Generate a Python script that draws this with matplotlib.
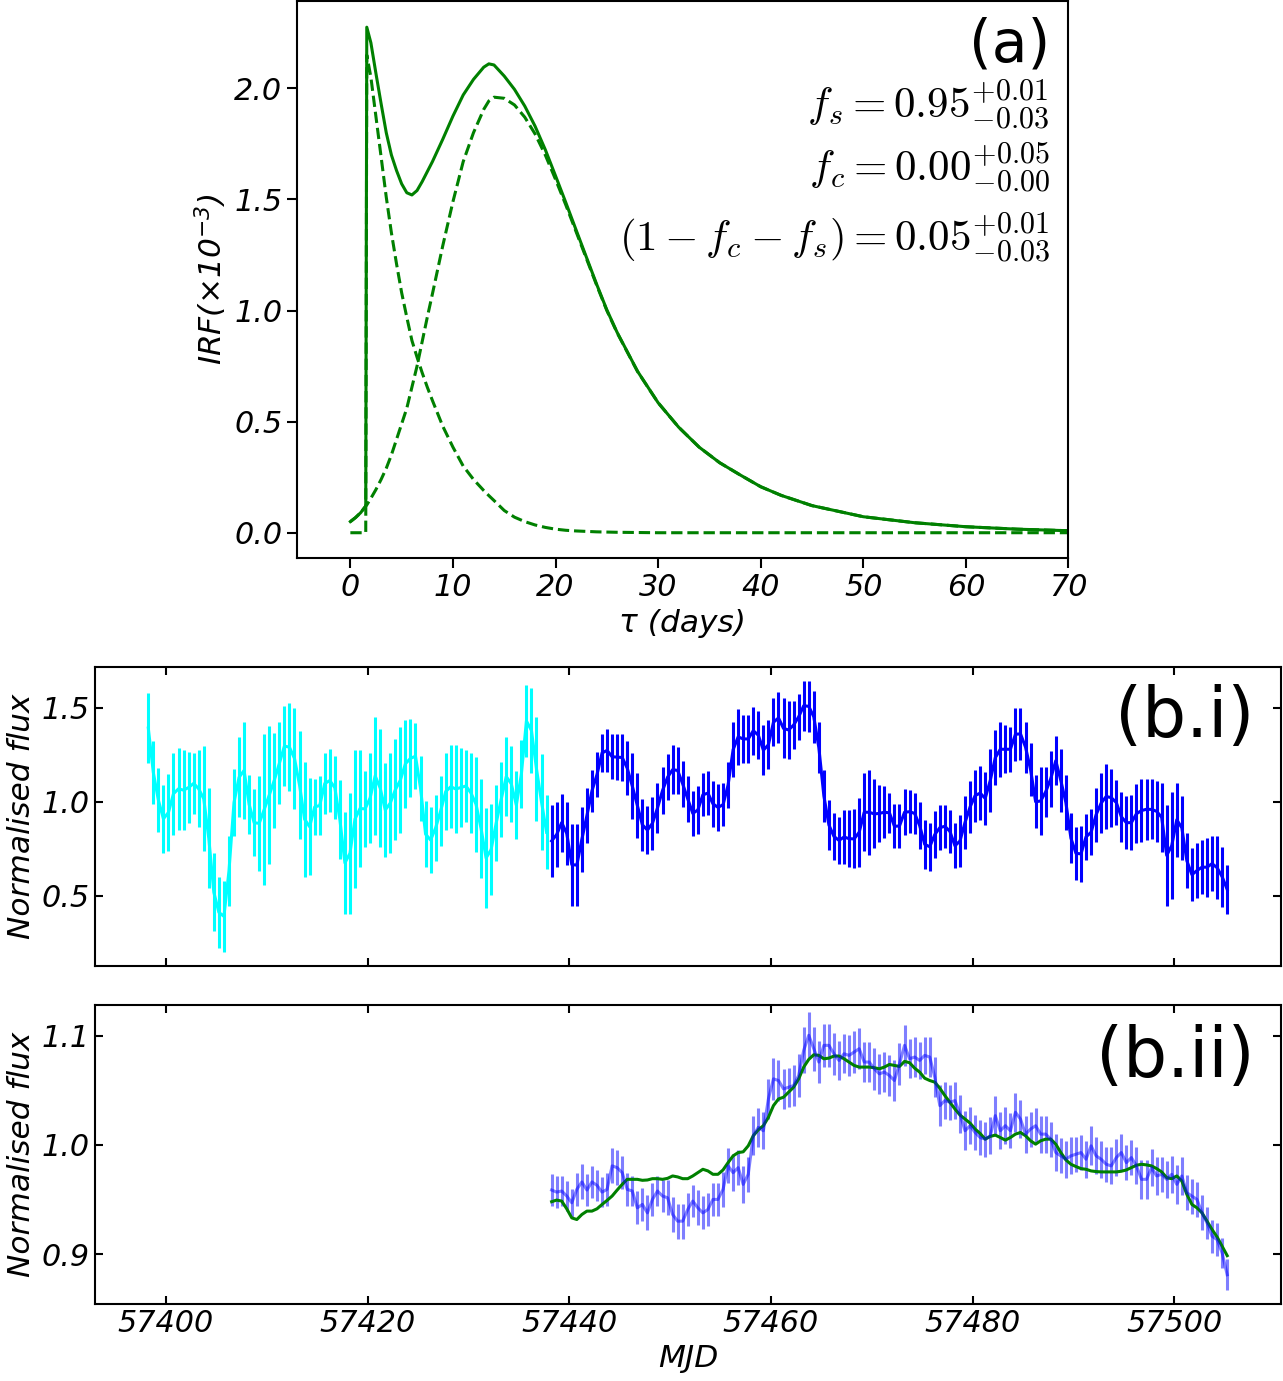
import numpy as np
import matplotlib
matplotlib.use('Agg')
import matplotlib.pyplot as plt

plt.rcParams['font.family'] = ['DejaVu Sans']
plt.rcParams['font.style'] = 'italic'
plt.rcParams['mathtext.fontset'] = 'cm'
plt.rcParams['axes.linewidth'] = 1.5

# ---------------- panel (a): impulse response function ----------------
tau = [0, 0.5, 1, 1.5, 1.6, 2, 2.5, 3, 3.5, 4, 4.5, 5, 5.5, 6, 6.5, 7, 7.5, 8, 9, 10,
       11, 12, 13, 13.5, 14, 15, 16, 17, 18, 19, 20, 21, 22, 23, 24, 25, 26, 28, 30, 32,
       34, 36, 38, 40, 42, 45, 50, 55, 60, 65, 70]
irf_total = [0.05, 0.068, 0.09, 0.12, 2.275, 2.205, 2.065, 1.93, 1.80, 1.70, 1.63, 1.57,
             1.53, 1.52, 1.54, 1.58, 1.625, 1.67, 1.77, 1.875, 1.97, 2.04, 2.095, 2.11,
             2.105, 2.055, 1.995, 1.92, 1.83, 1.724, 1.606, 1.486, 1.363, 1.241, 1.119,
             1.003, 0.902, 0.726, 0.585, 0.475, 0.385, 0.315, 0.26, 0.207, 0.168, 0.122,
             0.072, 0.045, 0.027, 0.016, 0.009]
irf_short = [0, 0, 0, 0, 2.15, 2.05, 1.87, 1.69, 1.51, 1.35, 1.21, 1.08, 0.97, 0.865, 0.79,
             0.72, 0.655, 0.595, 0.48, 0.385, 0.30, 0.24, 0.19, 0.167, 0.145, 0.10, 0.07,
             0.05, 0.035, 0.024, 0.016, 0.011, 0.008, 0.006, 0.004, 0.003, 0.002, 0.001,
             0, 0, 0, 0, 0, 0, 0, 0, 0, 0, 0, 0, 0]
irf_long = [0.05, 0.068, 0.09, 0.12, 0.125, 0.155, 0.195, 0.24, 0.29, 0.35, 0.42, 0.49,
            0.56, 0.655, 0.75, 0.86, 0.97, 1.075, 1.29, 1.49, 1.67, 1.80, 1.905, 1.943,
            1.96, 1.955, 1.925, 1.87, 1.795, 1.70, 1.59, 1.475, 1.355, 1.235, 1.115, 1.00,
            0.90, 0.725, 0.585, 0.475, 0.385, 0.315, 0.26, 0.207, 0.168, 0.122, 0.072,
            0.045, 0.027, 0.016, 0.009]
irf_xticks = [0, 10, 20, 30, 40, 50, 60, 70]
irf_yticks = [0.0, 0.5, 1.0, 1.5, 2.0]
frac_texts = [r'$f_s = 0.95^{+0.01}_{-0.03}$',
              r'$f_c = 0.00^{+0.05}_{-0.00}$',
              r'$(1-f_c-f_s) = 0.05^{+0.01}_{-0.03}$']

# ---------------- panel (b.i): light curves ----------------
cyan_start, blue_start, step = 57398.25, 57438.25, 0.5
cyan_flux = [1.393, 1.156, 1.009, 0.909, 0.943, 1.043, 1.069, 1.062, 1.076, 1.098,
             1.069, 1.016, 0.805, 0.517, 0.410, 0.389, 0.630, 0.996, 1.130, 1.167,
             0.986, 0.888, 0.885, 0.959, 1.036, 1.115, 1.205, 1.297, 1.291, 1.231,
             1.089, 0.907, 0.867, 0.972, 0.980, 1.097, 1.113, 1.075, 0.905, 0.674,
             0.725, 0.908, 0.964, 0.962, 1.020, 1.138, 1.073, 0.956, 0.993, 1.064,
             1.115, 1.203, 1.231, 1.243, 1.072, 0.827, 0.796, 0.861, 0.952, 1.055,
             1.080, 1.068, 1.076, 1.084, 1.047, 0.987, 0.858, 0.700, 0.745, 0.886,
             1.013, 1.134, 1.096, 0.982, 1.147, 1.431, 1.380, 1.175, 0.998, 0.837]
cyan_err = [0.188, 0.167, 0.169, 0.183, 0.203, 0.219, 0.219, 0.213, 0.190, 0.163,
            0.206, 0.281, 0.267, 0.208, 0.190, 0.188, 0.187, 0.181, 0.213, 0.259,
            0.156, 0.178, 0.252, 0.402, 0.368, 0.253, 0.218, 0.213, 0.233, 0.270,
            0.290, 0.307, 0.258, 0.148, 0.157, 0.164, 0.166, 0.169, 0.211, 0.273,
            0.323, 0.367, 0.311, 0.202, 0.242, 0.315, 0.313, 0.252, 0.268, 0.268,
            0.284, 0.235, 0.208, 0.175, 0.173, 0.177, 0.178, 0.175, 0.187, 0.206,
            0.222, 0.234, 0.213, 0.191, 0.211, 0.253, 0.263, 0.268, 0.243, 0.203,
            0.200, 0.209, 0.203, 0.181, 0.182, 0.191, 0.229, 0.278, 0.256, 0.198]
blue_flux = [0.791, 0.825, 0.889, 0.831, 0.665, 0.662, 0.800, 0.926, 1.058, 1.145,
             1.260, 1.274, 1.240, 1.238, 1.236, 1.179, 1.084, 0.981, 0.877, 0.849,
             0.885, 0.967, 1.060, 1.131, 1.171, 1.167, 1.095, 1.015, 0.938, 0.956,
             1.037, 1.046, 0.989, 0.970, 0.984, 1.089, 1.278, 1.346, 1.335, 1.335,
             1.379, 1.355, 1.275, 1.304, 1.424, 1.447, 1.391, 1.383, 1.409, 1.453,
             1.512, 1.509, 1.453, 1.289, 1.031, 0.876, 0.815, 0.794, 0.812, 0.803,
             0.802, 0.837, 0.944, 0.944, 0.935, 0.938, 0.944, 0.941, 0.869, 0.871,
             0.944, 0.947, 0.938, 0.873, 0.773, 0.760, 0.825, 0.862, 0.869, 0.842,
             0.765, 0.791, 0.890, 0.972, 1.033, 1.046, 1.018, 1.113, 1.235, 1.280,
             1.280, 1.280, 1.360, 1.362, 1.291, 1.171, 1.000, 1.004, 1.053, 1.123,
             1.219, 1.113, 0.996, 0.806, 0.725, 0.722, 0.813, 0.837, 0.931, 0.993,
             1.028, 1.022, 0.996, 0.920, 0.888, 0.889, 0.936, 0.953, 0.960, 0.959,
             0.949, 0.917, 0.714, 0.766, 0.904, 0.861, 0.685, 0.611, 0.633, 0.651,
             0.651, 0.670, 0.648, 0.600, 0.532]
blue_err = [0.191, 0.175, 0.155, 0.169, 0.219, 0.217, 0.173, 0.145, 0.111, 0.118,
            0.100, 0.114, 0.121, 0.123, 0.124, 0.144, 0.178, 0.173, 0.140, 0.130,
            0.142, 0.131, 0.126, 0.123, 0.131, 0.123, 0.122, 0.122, 0.121, 0.128,
            0.114, 0.117, 0.123, 0.124, 0.114, 0.124, 0.148, 0.151, 0.127, 0.127,
            0.127, 0.128, 0.133, 0.131, 0.127, 0.136, 0.160, 0.155, 0.130, 0.124,
            0.133, 0.136, 0.137, 0.138, 0.138, 0.133, 0.126, 0.126, 0.144, 0.153,
            0.157, 0.184, 0.207, 0.228, 0.184, 0.151, 0.139, 0.107, 0.118, 0.116,
            0.122, 0.115, 0.110, 0.127, 0.132, 0.128, 0.127, 0.120, 0.114, 0.114,
            0.120, 0.138, 0.140, 0.140, 0.139, 0.144, 0.142, 0.166, 0.147, 0.147,
            0.129, 0.120, 0.141, 0.139, 0.135, 0.140, 0.142, 0.182, 0.133, 0.149,
            0.131, 0.166, 0.147, 0.135, 0.142, 0.148, 0.124, 0.122, 0.144, 0.162,
            0.171, 0.155, 0.120, 0.133, 0.142, 0.147, 0.158, 0.166, 0.164, 0.160,
            0.163, 0.184, 0.268, 0.287, 0.197, 0.169, 0.147, 0.140, 0.148, 0.145,
            0.157, 0.147, 0.169, 0.160, 0.131]

# ---------------- panel (b.ii): driven light curve and model ----------------
bii_flux = [0.9586, 0.9567, 0.9577, 0.9531, 0.9469, 0.9592, 0.9660, 0.9586, 0.9660, 0.9629,
            0.9567, 0.9592, 0.9807, 0.9791, 0.9745, 0.9592, 0.9577, 0.9423, 0.9454, 0.9377,
            0.9500, 0.9577, 0.9531, 0.9515, 0.9362, 0.9301, 0.9301, 0.9408, 0.9485, 0.9423,
            0.9377, 0.9408, 0.9500, 0.9500, 0.9592, 0.9807, 0.9745, 0.9791, 0.9638, 0.9730,
            1.0083, 1.0160, 1.0129, 1.0420, 1.0604, 1.0589, 1.0512, 1.0528, 1.0543, 1.0635,
            1.0865, 1.1003, 1.0880, 1.0758, 1.0911, 1.0911, 1.0834, 1.0773, 1.0834, 1.0819,
            1.0850, 1.0880, 1.0758, 1.0758, 1.0696, 1.0650, 1.0666, 1.0635, 1.0589, 1.0742,
            1.0911, 1.0788, 1.0804, 1.0773, 1.0819, 1.0804, 1.0620, 1.0359, 1.0405, 1.0390,
            1.0405, 1.0282, 1.0129, 1.0175, 1.0113, 1.0067, 1.0052, 1.0083, 1.0267, 1.0129,
            1.0175, 1.0129, 1.0298, 1.0236, 1.0098, 1.0144, 1.0175, 1.0098, 1.0098, 1.0052,
            0.9929, 0.9899, 0.9868, 0.9899, 0.9914, 0.9929, 0.9868, 0.9991, 0.9899, 0.9868,
            0.9822, 0.9807, 0.9883, 0.9929, 0.9837, 0.9883, 0.9807, 0.9684, 0.9684, 0.9791,
            0.9715, 0.9730, 0.9684, 0.9730, 0.9638, 0.9715, 0.9561, 0.9531, 0.9500, 0.9377,
            0.9285, 0.9163, 0.9132, 0.9009, 0.8810]
bii_err = [0.015, 0.015, 0.014, 0.014, 0.013, 0.015, 0.016, 0.015, 0.015, 0.014,
           0.014, 0.015, 0.016, 0.016, 0.015, 0.015, 0.014, 0.015, 0.015, 0.016,
           0.015, 0.014, 0.015, 0.016, 0.016, 0.016, 0.016, 0.015, 0.015, 0.016,
           0.015, 0.015, 0.015, 0.015, 0.016, 0.016, 0.017, 0.016, 0.017, 0.016,
           0.018, 0.018, 0.017, 0.018, 0.019, 0.019, 0.018, 0.018, 0.019, 0.020,
           0.021, 0.021, 0.020, 0.019, 0.020, 0.020, 0.019, 0.018, 0.018, 0.019,
           0.019, 0.019, 0.018, 0.018, 0.019, 0.018, 0.018, 0.019, 0.019, 0.019,
           0.019, 0.018, 0.018, 0.017, 0.017, 0.018, 0.018, 0.019, 0.017, 0.016,
           0.017, 0.017, 0.018, 0.017, 0.016, 0.016, 0.016, 0.017, 0.018, 0.017,
           0.017, 0.016, 0.018, 0.017, 0.017, 0.016, 0.016, 0.017, 0.017, 0.016,
           0.017, 0.016, 0.017, 0.017, 0.016, 0.016, 0.017, 0.018, 0.017, 0.017,
           0.016, 0.017, 0.017, 0.017, 0.016, 0.016, 0.017, 0.018, 0.018, 0.017,
           0.017, 0.016, 0.017, 0.017, 0.018, 0.017, 0.016, 0.016, 0.016, 0.016,
           0.015, 0.015, 0.015, 0.014, 0.014]
model_flux = [0.9479, 0.9494, 0.9485, 0.9414, 0.9331, 0.9316, 0.9362, 0.9393, 0.9393, 0.9414,
              0.9454, 0.9491, 0.9531, 0.9586, 0.9638, 0.9684, 0.9684, 0.9684, 0.9675, 0.9678,
              0.9690, 0.9690, 0.9684, 0.9693, 0.9715, 0.9706, 0.9690, 0.9690, 0.9715, 0.9745,
              0.9776, 0.9761, 0.9730, 0.9730, 0.9770, 0.9837, 0.9899, 0.9929, 0.9936, 0.9991,
              1.0083, 1.0138, 1.0175, 1.0252, 1.0359, 1.0420, 1.0436, 1.0482, 1.0528, 1.0604,
              1.0712, 1.0782, 1.0825, 1.0819, 1.0788, 1.0794, 1.0813, 1.0813, 1.0788, 1.0758,
              1.0727, 1.0712, 1.0712, 1.0712, 1.0706, 1.0696, 1.0712, 1.0736, 1.0727, 1.0718,
              1.0764, 1.0752, 1.0702, 1.0666, 1.0610, 1.0589, 1.0574, 1.0518, 1.0451, 1.0390,
              1.0328, 1.0273, 1.0236, 1.0199, 1.0144, 1.0104, 1.0052, 1.0077, 1.0089, 1.0067,
              1.0043, 1.0067, 1.0098, 1.0113, 1.0083, 1.0037, 1.0006, 1.0037, 1.0052, 1.0052,
              1.0006, 0.9929, 0.9862, 0.9822, 0.9801, 0.9782, 0.9776, 0.9761, 0.9755, 0.9752,
              0.9752, 0.9752, 0.9752, 0.9758, 0.9770, 0.9791, 0.9813, 0.9822, 0.9816, 0.9807,
              0.9782, 0.9752, 0.9699, 0.9690, 0.9715, 0.9669, 0.9546, 0.9454, 0.9423, 0.9377,
              0.9301, 0.9224, 0.9156, 0.9071, 0.8985]
mjd_ticks = [57400, 57420, 57440, 57460, 57480, 57500]
bi_yticks = [0.5, 1.0, 1.5]
bii_yticks = [0.9, 1.0, 1.1]

mjd_cyan = cyan_start + step * np.arange(len(cyan_flux))
mjd_blue = blue_start + step * np.arange(len(blue_flux))

# ---------------- figure ----------------
fig = plt.figure(figsize=(12.83, 13.81), dpi=100)
TICK_FS = 21.8
LAB_FS = 22.5

axa = fig.add_axes([0.2315, 0.5959, 0.6013, 0.4034])
axa.plot(tau, irf_total, color='green', lw=2.2)
axa.plot(tau, irf_short, color='green', lw=2.2, ls='--')
axa.plot(tau, irf_long, color='green', lw=2.2, ls='--')
axa.set_xlim(-5.2, 70)
axa.set_ylim(-0.114, 2.393)
axa.set_xticks(irf_xticks)
axa.set_yticks(irf_yticks)
axa.tick_params(labelsize=TICK_FS, width=1.5, length=7)
axa.set_xlabel('τ (days)', fontsize=LAB_FS, labelpad=5)
axa.set_ylabel('IRF(×10$\\mathregular{^{-3}}$)', fontsize=LAB_FS)
axa.text(0.976, 0.921, '(a)', transform=axa.transAxes, ha='right', va='center',
         fontsize=42, fontstyle='normal')
for txt, yy in zip(frac_texts, [0.813, 0.700, 0.5745]):
    axa.text(0.976, yy, txt, transform=axa.transAxes, ha='right', va='center', fontsize=31)

axb1 = fig.add_axes([0.0740, 0.3005, 0.9244, 0.2167])
axb1.errorbar(mjd_cyan, cyan_flux, yerr=cyan_err, color='cyan', lw=2.2, elinewidth=2.2, capsize=0)
axb1.errorbar(mjd_blue, blue_flux, yerr=blue_err, color='blue', lw=2.2, elinewidth=2.2, capsize=0)
axb1.set_xlim(57392.96, 57510.58)
axb1.set_ylim(0.124, 1.72)
axb1.set_xticks(mjd_ticks)
axb1.set_yticks(bi_yticks)
axb1.tick_params(direction='in', top=True, right=True, labelbottom=False,
                 labelsize=TICK_FS, width=1.5, length=6)
axb1.set_ylabel('Normalised flux', fontsize=LAB_FS)
axb1.text(0.978, 0.829, '(b.i)', transform=axb1.transAxes, ha='right', va='center',
          fontsize=50, fontstyle='normal')

axb2 = fig.add_axes([0.0740, 0.0555, 0.9244, 0.2168])
axb2.errorbar(mjd_blue, bii_flux, yerr=bii_err, color='blue', alpha=0.5, lw=2.2,
              elinewidth=2.2, capsize=0)
axb2.plot(mjd_blue, model_flux, color='green', lw=2.2)
axb2.set_xlim(57392.96, 57510.58)
axb2.set_ylim(0.8539, 1.1281)
axb2.set_xticks(mjd_ticks)
axb2.set_yticks(bii_yticks)
axb2.tick_params(direction='in', top=True, right=True,
                 labelsize=TICK_FS, width=1.5, length=6)
axb2.set_ylabel('Normalised flux', fontsize=LAB_FS)
axb2.set_xlabel('MJD', fontsize=LAB_FS)
axb2.text(0.978, 0.826, '(b.ii)', transform=axb2.transAxes, ha='right', va='center',
          fontsize=50, fontstyle='normal')

fig.savefig('out.png', dpi=100)
